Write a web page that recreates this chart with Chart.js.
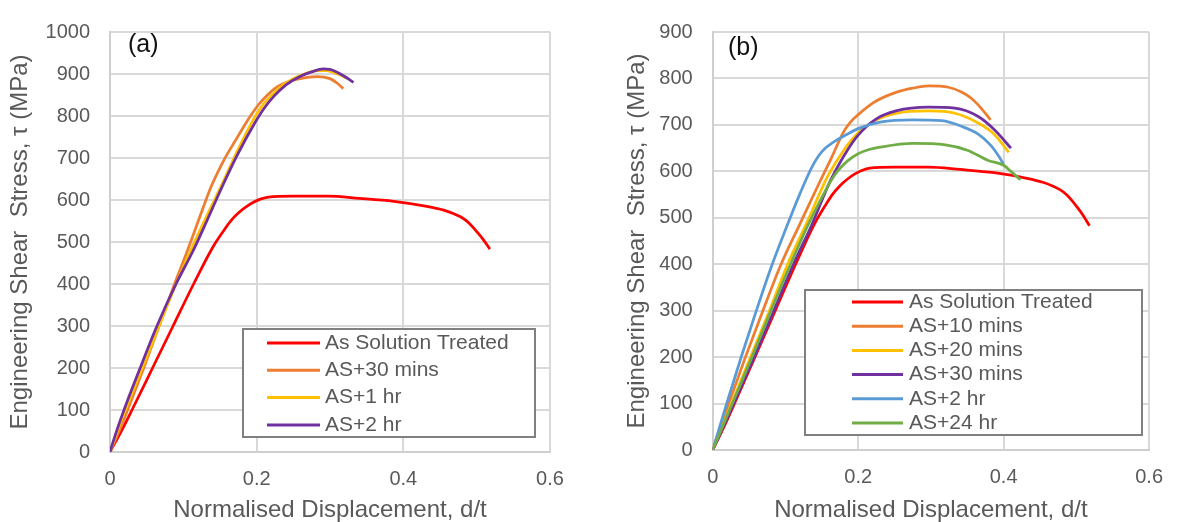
<!DOCTYPE html>
<html>
<head>
<meta charset="utf-8">
<script src="https://cdn.jsdelivr.net/npm/chart.js@4.4.0/dist/chart.umd.min.js"></script>
<style>
  html, body { margin: 0; padding: 0; background: #fff; }
  #wrap { position: relative; width: 1178px; height: 522px; }
  canvas { position: absolute; top: 0; }
  #chartA { left: 0; }
  #chartB { left: 589px; }
</style>
</head>
<body>
<div id="wrap">
  <canvas id="chartA" width="589" height="522"></canvas>
  <canvas id="chartB" width="589" height="522"></canvas>
</div>
<script>
// shear punch curves: normalised displacement d/t vs engineering shear stress (MPa)
const solutionTreated = [[0,0],[0.015,48],[0.03,100],[0.058,200],[0.086,300],[0.114,400],[0.14,487],[0.155,527],[0.165,551],[0.175,569],[0.185,583],[0.195,594],[0.205,602],[0.216,607],[0.25,609],[0.297,609],[0.34,604],[0.387,597],[0.432,585],[0.455,576],[0.468,568],[0.478,560],[0.487,549],[0.494,537],[0.5,525],[0.508,508],[0.518,483]];

// panel (a)
const a30min = [[0,0],[0.012,48],[0.024,100],[0.046,200],[0.067,300],[0.088,400],[0.104,472],[0.12,548],[0.138,632],[0.155,694],[0.168,733],[0.18,768],[0.191,799],[0.203,828],[0.214,849],[0.225,866],[0.236,877],[0.259,889],[0.282,894],[0.3,889],[0.31,878],[0.318,865]];
const a1hr = [[0,0],[0.01,50],[0.021,100],[0.044,200],[0.067,300],[0.09,400],[0.108,472],[0.13,555],[0.152,635],[0.177,729],[0.198,799],[0.21,830],[0.2227,853],[0.235,873],[0.25,889],[0.265,900],[0.282,908],[0.295,908],[0.3045,904],[0.315,897],[0.3227,889]];
const a2hr = [[0,0],[0.008,45],[0.018,95],[0.04,195],[0.064,300],[0.09,400],[0.113,478],[0.132,550],[0.152,628],[0.173,705],[0.198,785],[0.21,818],[0.223,846],[0.24,874],[0.259,894],[0.275,905],[0.291,912],[0.3,911],[0.309,905],[0.32,894],[0.332,880]];

// panel (b)
const b10min = [[0,0],[0.022,100],[0.045,200],[0.069,300],[0.094,400],[0.12,487],[0.145,570],[0.163,628],[0.18,685],[0.19,707],[0.2,722],[0.221,748],[0.252,770],[0.275,779],[0.297,784],[0.324,781],[0.342,771],[0.355,758],[0.365,743],[0.382,711]];
const b20min = [[0,0],[0.026,100],[0.052,200],[0.078,300],[0.103,400],[0.129,488],[0.158,589],[0.18,645],[0.2,683],[0.225,711],[0.252,725],[0.297,730],[0.333,725],[0.365,704],[0.387,680],[0.407,641]];
const b30min = [[0,0],[0.029,100],[0.057,200],[0.084,300],[0.111,400],[0.136,484],[0.1625,582],[0.185,645],[0.2,678],[0.225,713],[0.252,730],[0.297,738],[0.333,736],[0.365,718],[0.387,690],[0.41,650]];
const b2hr = [[0,0],[0.02,104],[0.04,204],[0.06,300],[0.08,392],[0.1,474],[0.12,552],[0.135,605],[0.145,632],[0.155,650],[0.165,662],[0.185,680],[0.2,692],[0.23,706],[0.275,711],[0.315,709],[0.342,697],[0.365,680],[0.383,655],[0.394,631],[0.4,615]];
const b24hr = [[0,0],[0.027,100],[0.054,200],[0.08,300],[0.107,400],[0.131,484],[0.1535,554],[0.163,581],[0.1715,600],[0.185,622],[0.2,638],[0.215,647],[0.23,652],[0.275,660],[0.32,657],[0.351,645],[0.378,624],[0.4,613],[0.41,600],[0.423,582]];

const xTicks = [0, 0.2, 0.4, 0.6];
const xTickLabels = ['0', '0.2', '0.4', '0.6'];
const yTicksA = [0, 100, 200, 300, 400, 500, 600, 700, 800, 900, 1000];
const yTicksB = [0, 100, 200, 300, 400, 500, 600, 700, 800, 900];

const RED = '#FF0000', ORANGE = '#ED7D31', GOLD = '#FFC000', PURPLE = '#7030A0', BLUE = '#5B9BD5', GREEN = '#70AD47';
const FONT = '"Liberation Sans", Arial, sans-serif';
const TEXT = '#595959';

Chart.defaults.font.family = FONT;
Chart.defaults.color = TEXT;

function series(label, pts, color, n, i) {
  return {
    label: label,
    data: pts.map(p => ({ x: p[0], y: p[1] })),
    borderColor: color,
    backgroundColor: color,
    borderWidth: 2.75,
    pointRadius: 0,
    cubicInterpolationMode: 'monotone',
    fill: false,
    order: n - i
  };
}

// legend box + panel tag drawn on top of the plot
const boxLegend = {
  id: 'boxLegend',
  afterDraw(chart, args, o) {
    const ctx = chart.ctx;
    ctx.save();
    ctx.fillStyle = '#fff';
    ctx.fillRect(o.x, o.y, o.w, o.h);
    ctx.strokeStyle = '#808080';
    ctx.lineWidth = 2;
    ctx.strokeRect(o.x, o.y, o.w, o.h);
    ctx.font = '21px ' + FONT;
    ctx.textBaseline = 'middle';
    chart.data.datasets.forEach((ds, i) => {
      const cy = o.row0 + i * o.rowGap;
      ctx.strokeStyle = ds.borderColor;
      ctx.lineWidth = 3;
      ctx.beginPath();
      ctx.moveTo(o.line0, cy);
      ctx.lineTo(o.line1, cy);
      ctx.stroke();
      ctx.fillStyle = TEXT;
      ctx.fillText(ds.label, o.textX, cy);
    });
    ctx.fillStyle = '#111';
    ctx.font = '25px ' + FONT;
    ctx.fillText(o.tag, o.tagX, o.tagY);
    ctx.restore();
  }
};

function makeChart(id, datasets, yTicks, dims, legend) {
  return new Chart(document.getElementById(id), {
    type: 'line',
    data: { datasets: datasets },
    plugins: [boxLegend],
    options: {
      responsive: false,
      animation: false,
      devicePixelRatio: 1,
      layout: { padding: { left: 0, top: dims.top, right: dims.right, bottom: 0 } },
      plugins: {
        legend: { display: false },
        tooltip: { enabled: false },
        boxLegend: legend
      },
      scales: {
        x: {
          type: 'linear',
          min: 0, max: 0.6,
          afterBuildTicks: s => { s.ticks = xTicks.map(v => ({ value: v })); },
          afterFit: s => { s.height = dims.xHeight; },
          ticks: { padding: 15, font: { size: 20 }, color: TEXT, callback: (v, i) => xTickLabels[i] },
          grid: { color: '#d9d9d9', lineWidth: 2, drawTicks: false },
          border: { color: '#cfcfcf', width: 2 },
          title: { display: true, text: 'Normalised Displacement, d/t', color: TEXT,
                   font: { size: 24, lineHeight: 1 }, padding: { top: 0, bottom: 0 } }
        },
        y: {
          type: 'linear',
          min: 0, max: yTicks[yTicks.length - 1],
          afterBuildTicks: s => { s.ticks = yTicks.map(v => ({ value: v })); },
          afterFit: s => { s.width = dims.yWidth; },
          ticks: { padding: 20, font: { size: 20 }, color: TEXT, callback: (v, i) => String(yTicks[i]) },
          grid: { color: '#d9d9d9', lineWidth: 2, drawTicks: false },
          border: { color: '#cfcfcf', width: 2 },
          title: { display: true, text: 'Engineering Shear  Stress, τ (MPa)', color: TEXT,
                   font: { size: 24, lineHeight: 1.2 }, padding: { top: dims.yTitlePad, bottom: 0 } }
        }
      }
    }
  });
}

const setA = [
  ['As Solution Treated', solutionTreated, RED],
  ['AS+30 mins', a30min, ORANGE],
  ['AS+1 hr', a1hr, GOLD],
  ['AS+2 hr', a2hr, PURPLE]
];
const setB = [
  ['As Solution Treated', solutionTreated, RED],
  ['AS+10 mins', b10min, ORANGE],
  ['AS+20 mins', b20min, GOLD],
  ['AS+30 mins', b30min, PURPLE],
  ['AS+2 hr', b2hr, BLUE],
  ['AS+24 hr', b24hr, GREEN]
];

makeChart('chartA',
  setA.map((s, i) => series(s[0], s[1], s[2], setA.length, i)),
  yTicksA,
  { top: 24, right: 39, xHeight: 70, yWidth: 110, yTitlePad: 5.6 },
  { x: 243, y: 329, w: 292, h: 108, line0: 267, line1: 320, textX: 325, row0: 343, rowGap: 27.3,
    tag: '(a)', tagX: 128, tagY: 45 });

makeChart('chartB',
  setB.map((s, i) => series(s[0], s[1], s[2], setB.length, i)),
  yTicksB,
  { top: 22, right: 20, xHeight: 72, yWidth: 123.7, yTitlePad: 33.6 },
  { x: 216, y: 290, w: 337, h: 145, line0: 263, line1: 314, textX: 320, row0: 302, rowGap: 24.2,
    tag: '(b)', tagX: 139, tagY: 48 });
</script>
</body>
</html>
